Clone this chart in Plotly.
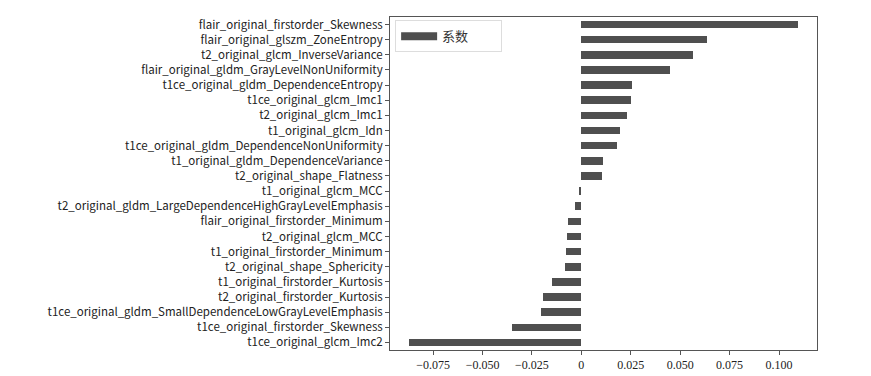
import plotly.graph_objects as go

features = [
    "flair_original_firstorder_Skewness",
    "flair_original_glszm_ZoneEntropy",
    "t2_original_glcm_InverseVariance",
    "flair_original_gldm_GrayLevelNonUniformity",
    "t1ce_original_gldm_DependenceEntropy",
    "t1ce_original_glcm_Imc1",
    "t2_original_glcm_Imc1",
    "t1_original_glcm_Idn",
    "t1ce_original_gldm_DependenceNonUniformity",
    "t1_original_gldm_DependenceVariance",
    "t2_original_shape_Flatness",
    "t1_original_glcm_MCC",
    "t2_original_gldm_LargeDependenceHighGrayLevelEmphasis",
    "flair_original_firstorder_Minimum",
    "t2_original_glcm_MCC",
    "t1_original_firstorder_Minimum",
    "t2_original_shape_Sphericity",
    "t1_original_firstorder_Kurtosis",
    "t2_original_firstorder_Kurtosis",
    "t1ce_original_gldm_SmallDependenceLowGrayLevelEmphasis",
    "t1ce_original_firstorder_Skewness",
    "t1ce_original_glcm_Imc2",
]
coefficients = [
    0.1094, 0.0636, 0.0567, 0.0447, 0.0258, 0.0250, 0.0230, 0.0196, 0.0182,
    0.0108, 0.0106, -0.0012, -0.0030, -0.0067, -0.0072, -0.0076, -0.0081,
    -0.0150, -0.0194, -0.0204, -0.0352, -0.0870,
]
series_name = "系数"
x_tickvals = [-0.075, -0.05, -0.025, 0, 0.025, 0.05, 0.075, 0.1]
x_ticktext = ["\u22120.075", "\u22120.050", "\u22120.025", "0", "0.025", "0.050", "0.075", "0.100"]

bar_color = "#4f4f4f"

fig = go.Figure()
fig.add_trace(go.Bar(
    x=coefficients, y=features, orientation="h", name=series_name,
    marker=dict(color=bar_color, line=dict(width=0)), width=0.5,
    showlegend=False,
))
# legend-only entry drawn as a wide rectangle like the reference's legend patch
fig.add_trace(go.Scatter(
    x=[None], y=[None], mode="lines", name=series_name,
    line=dict(color=bar_color, width=8), showlegend=True, hoverinfo="skip",
))

fig.update_layout(
    width=871, height=376,
    margin=dict(l=382, r=62, t=9, b=34, autoexpand=False),
    plot_bgcolor="white", paper_bgcolor="white",
    bargap=0,
    showlegend=True,
    legend=dict(
        orientation="h",
        x=0.012, y=0.99, xanchor="left", yanchor="top",
        bgcolor="white", bordercolor="#dddddd", borderwidth=1,
        font=dict(family="Noto Sans CJK SC, serif", size=13, color="#333333"),
        itemwidth=36, entrywidth=54, entrywidthmode="pixels",
    ),
    xaxis=dict(
        range=[-0.0968, 0.1192], tickvals=x_tickvals, ticktext=x_ticktext,
        showgrid=False, zeroline=False, showline=True, mirror=True,
        linecolor="#555555", linewidth=1,
        ticks="outside", ticklen=4, tickcolor="#555555",
        tickfont=dict(family="Liberation Serif, Times New Roman, serif", size=12, color="#222222"),
    ),
    yaxis=dict(
        autorange="reversed",
        showgrid=False, zeroline=False, showline=True, mirror=True,
        linecolor="#555555", linewidth=1,
        ticks="outside", ticklen=4, tickcolor="#555555",
        tickfont=dict(family="Noto Sans CJK SC, Noto Sans, sans-serif", size=11.5, color="#222222"),
    ),
)

fig.write_html("out.html")
